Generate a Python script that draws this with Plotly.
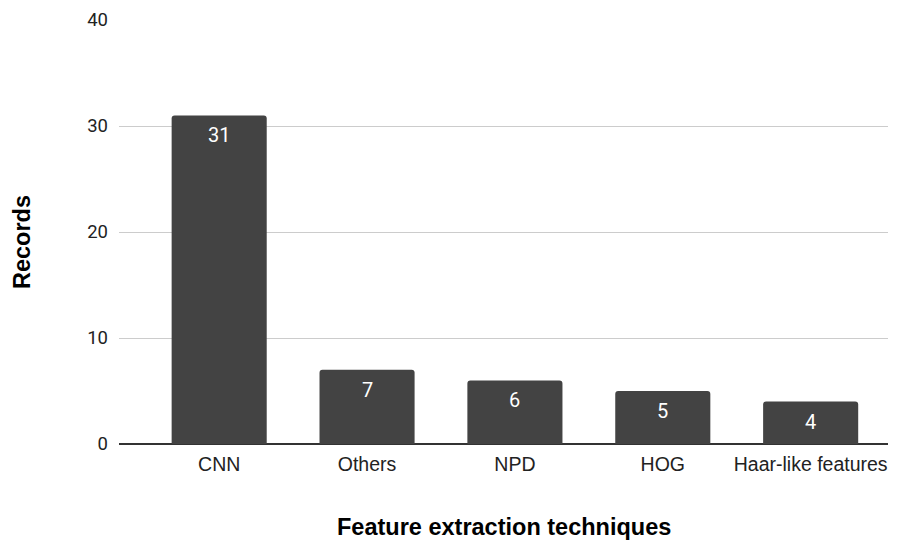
import plotly.graph_objects as go

# Records per feature extraction technique
categories = ["CNN", "Others", "NPD", "HOG", "Haar-like features"]
records = [31, 7, 6, 5, 4]
y_ticks = [0, 10, 20, 30, 40]

bar_color = "#434343"
sans = "Liberation Sans, Arial, sans-serif"
num_font = "Roboto, Arial, sans-serif"

fig = go.Figure()
fig.add_trace(go.Bar(
    x=categories,
    y=records,
    width=0.643,
    marker=dict(color=bar_color, line=dict(width=0), cornerradius=3),
    hoverinfo="x+y",
))

# value labels just below each bar's top
for cat, val in zip(categories, records):
    fig.add_annotation(
        x=cat, y=val, text=str(val), showarrow=False,
        yanchor="middle", yshift=-20,
        font=dict(family=num_font, size=20, color="#ffffff"),
    )

# axis titles
fig.add_annotation(
    xref="paper", yref="paper", x=0.5, y=-0.196,
    text="<b>Feature extraction techniques</b>", showarrow=False,
    xanchor="center", yanchor="middle",
    font=dict(family=sans, size=23.5, color="#000000"),
)
fig.add_annotation(
    xref="paper", yref="paper", x=-0.127, y=0.477,
    text="<b>Records</b>", showarrow=False, textangle=-90,
    xanchor="center", yanchor="middle",
    font=dict(family=sans, size=23.5, color="#000000"),
)

fig.update_layout(
    width=900, height=543,
    margin=dict(l=119, r=12, t=20, b=99, autoexpand=False),
    paper_bgcolor="white", plot_bgcolor="white",
    showlegend=False,
    xaxis=dict(
        type="category",
        range=[-0.6775, 4.523],
        automargin=False,
        showgrid=False,
        showline=False,
        ticks="", ticklabelstandoff=6,
        tickfont=dict(family=sans, size=19.5, color="#222222"),
    ),
    yaxis=dict(
        range=[0, 40],
        tickvals=y_ticks,
        automargin=False,
        showgrid=True, gridcolor="#cccccc", gridwidth=1,
        zeroline=True, zerolinecolor="#333333", zerolinewidth=1.5,
        showline=False,
        ticks="", ticklabelstandoff=10,
        tickfont=dict(family=num_font, size=18.5, color="#222222"),
    ),
)

fig.write_html("out.html")
